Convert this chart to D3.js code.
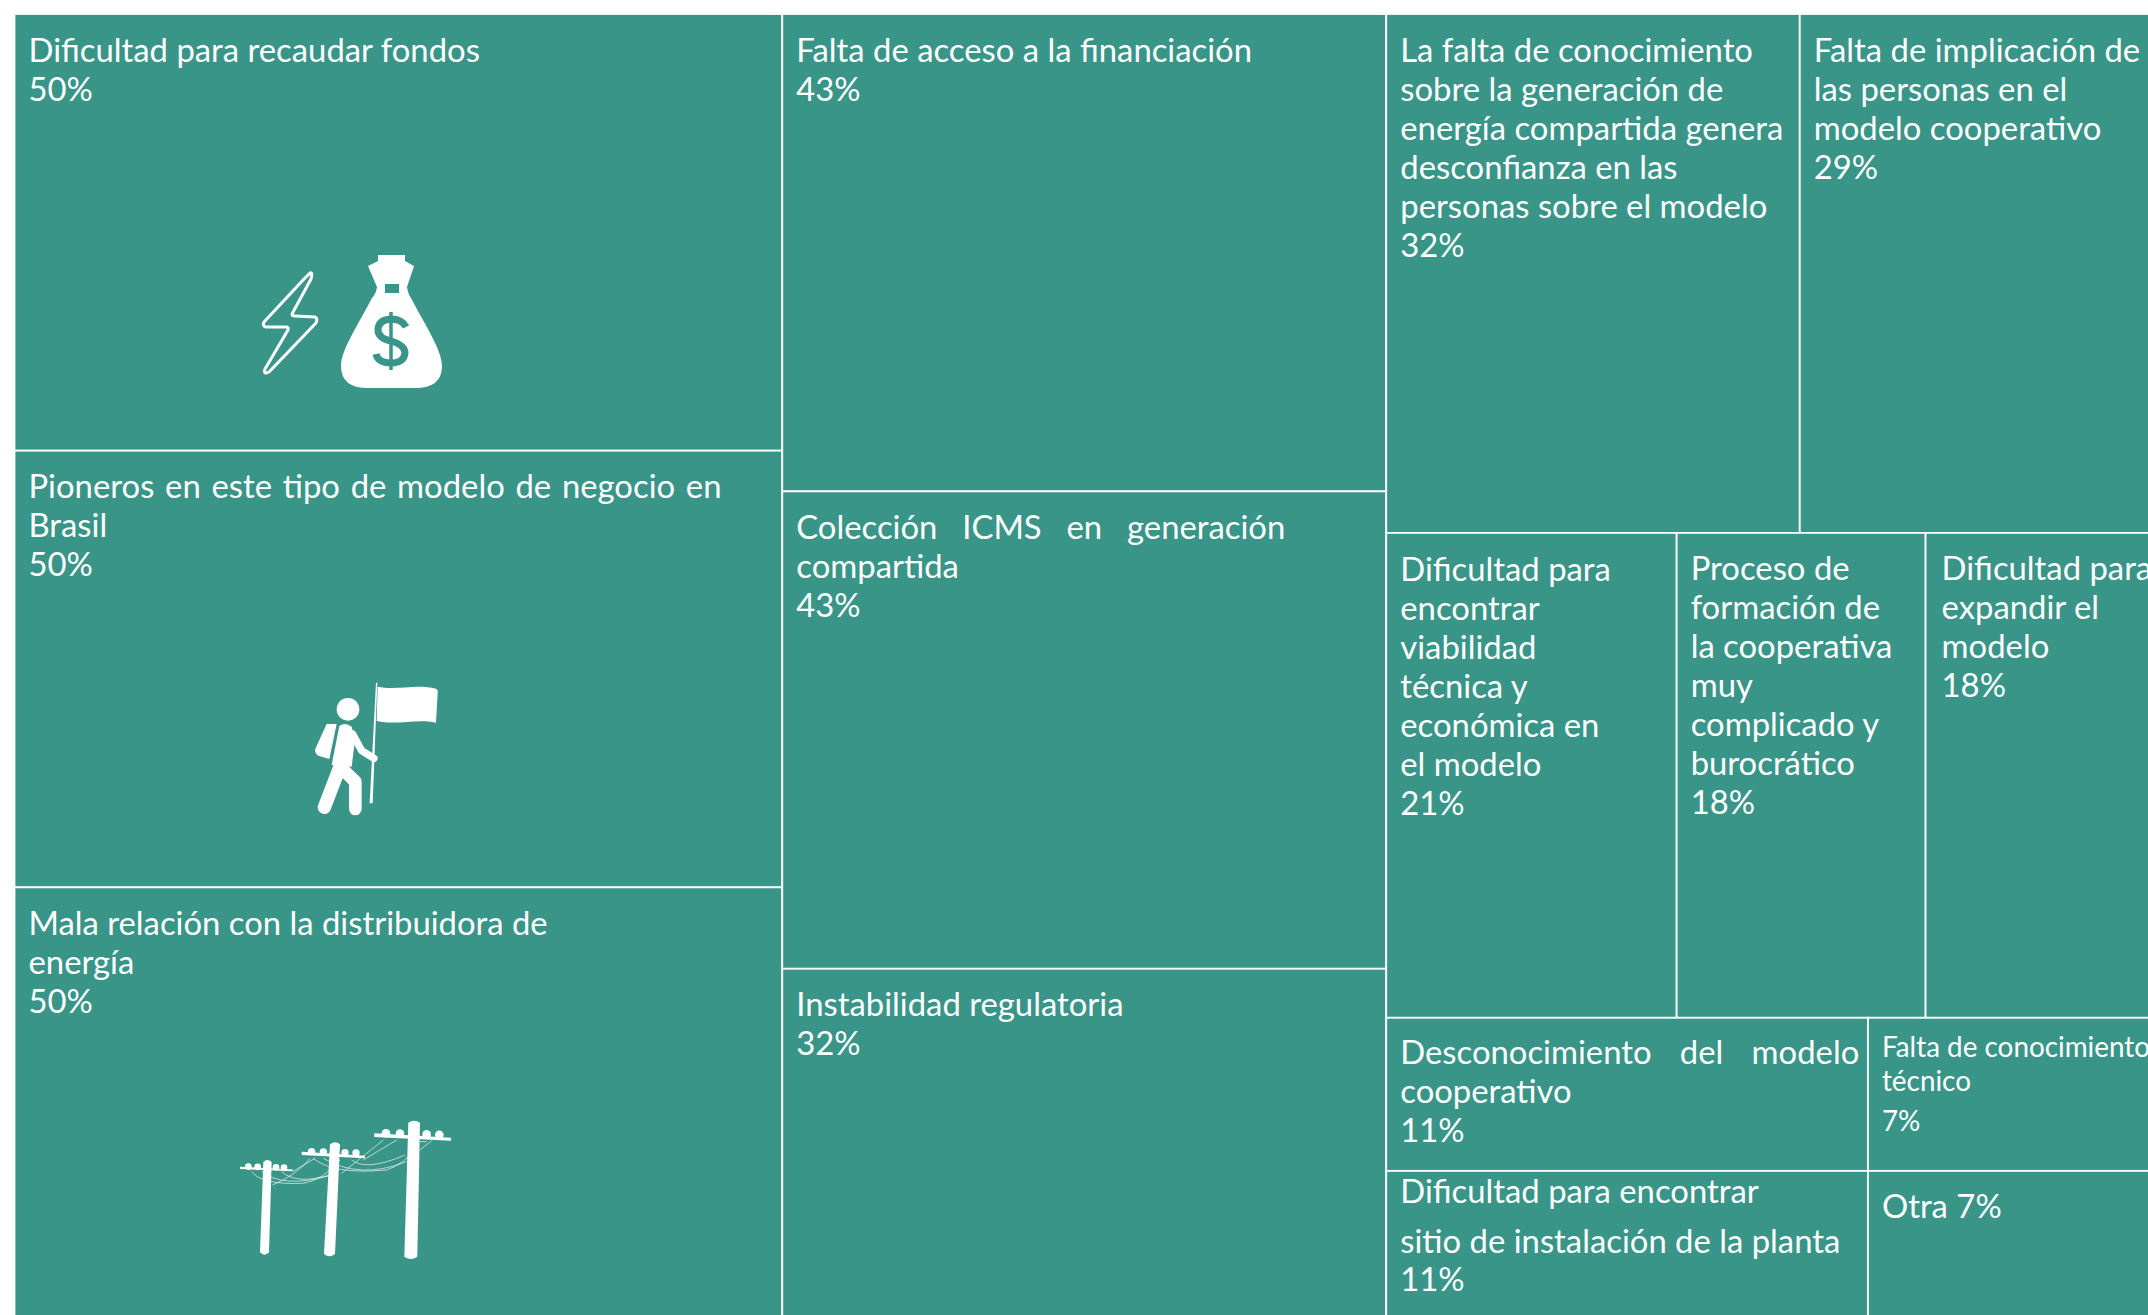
<!DOCTYPE html>
<html><head><meta charset="utf-8">
<script src="https://cdn.jsdelivr.net/npm/d3@7"></script>
<style>html,body{margin:0;padding:0;background:#fff;overflow:hidden}svg{display:block}</style>
</head><body><div id="c"></div>
<script>
// DATA
const col1Labels = ["Dificultad para recaudar fondos","Pioneros en este tipo de modelo de negocio en|Brasil","Mala relación con la distribuidora de|energía"];
const col1Values = [50,50,50];
const col2Labels = ["Falta de acceso a la financiación","Colección ICMS en generación|compartida","Instabilidad regulatoria"];
const col2Values = [43,43,32];
const row1Labels = ["La falta de conocimiento|sobre la generación de|energía compartida genera|desconfianza en las|personas sobre el modelo","Falta de implicación de|las personas en el|modelo cooperativo"];
const row1Values = [32,29];
const row2Labels = ["Dificultad para|encontrar|viabilidad|técnica y|económica en|el modelo","Proceso de|formación de|la cooperativa|muy|complicado y|burocrático","Dificultad para|expandir el|modelo"];
const row2Values = [21,18,18];
const sub1Labels = ["Desconocimiento del modelo|cooperativo","Dificultad para encontrar|sitio de instalación de la planta"];
const sub1Values = [11,11];
const sub2Labels = ["Falta de conocimiento|técnico","Otra"];
const sub2Values = [7,7];

// STYLE / LAYOUT
const W=2148,H=1315, fill="#399588";
const fontFamily="Lato", fontSize=33, fontWeight=400, sx=0.995, lineH=39;
const justify={"Pioneros en este tipo de modelo de negocio en":693,"Colección ICMS en generación":489,"Desconocimiento del modelo":459};
const firstLine={"Dificultad para|encontrar|viabilidad|técnica y|económica en|el modelo":48,"Colección ICMS en generación|compartida":48,"Pioneros en este tipo de modelo de negocio en|Brasil":47,"Instabilidad regulatoria":47,"Desconocimiento del modelo|cooperativo":46,"Dificultad para encontrar|sitio de instalación de la planta":32,"Falta de conocimiento|técnico":39};
const textLeft={"Dificultad para|expandir el|modelo":16};

const leaves=(ls,vs)=>ls.map((name,i)=>({name,value:vs[i]}));
const tree={children:[
 {children:leaves(col1Labels,col1Values)},
 {children:leaves(col2Labels,col2Values)},
 {children:[
   {children:[...leaves(row1Labels,row1Values)]},
   {children:leaves(row2Labels,row2Values)},
   {children:[{children:leaves(sub1Labels,sub1Values)},{children:leaves(sub2Labels,sub2Values)}]}
 ]}
]};
const root=d3.hierarchy(tree).sum(d=>d.value||0);
d3.treemap().size([2160,1310]).round(false).paddingInner(0)
  .tile((n,x0,y0,x1,y1)=> (n.depth%2===0?d3.treemapDice:d3.treemapSlice)(n,x0,y0,x1,y1))(root);

const svg=d3.select("#c").append("svg").attr("width",W).attr("height",H).attr("viewBox",`0 0 ${W} ${H}`);
const g=svg.append("g").attr("transform","translate(14.5,14)");
const cell=g.selectAll("g.cell").data(root.leaves()).join("g").attr("class","cell").attr("transform",d=>`translate(${d.x0},${d.y0})`);
cell.append("rect").attr("width",d=>d.x1-d.x0).attr("height",d=>d.y1-d.y0).attr("fill",fill).attr("stroke","#fff").attr("stroke-width",1.8);

cell.each(function(d){
  const sel=d3.select(this), name=d.data.name, lines=name.split("|");
  const small=name.startsWith("Falta de conocimiento|");
  const fs=small?28:fontSize, lh=small?34:lineH;
  let y=firstLine[name]??47.5;
  const left=textLeft[name]??14;
  const row=(t,yy)=>{
    const el=sel.append("text").attr("transform",`translate(${left},${yy}) scale(${sx},1)`)
      .attr("fill","#fff").attr("font-family",fontFamily).attr("font-size",fs).attr("font-weight",fontWeight).text(t);
    if(justify[t]){
      const n=t.split(" ").length-1, w=el.node().getComputedTextLength();
      el.attr("word-spacing",(justify[t]/sx-w)/n);
    }
  };
  if(name==="Otra"){row("Otra "+d.data.value+"%",y);return;}
  lines.forEach((t,i)=>{ row(t,y); if(i<lines.length-1) y+= name.startsWith("Dificultad para encontrar|")?50:lh; });
  y+= name.startsWith("Dificultad para encontrar|")?38:(small?40:lh);
  row(d.data.value+"%",y);
});

// ICONS (decorative pictograms)
const ic=svg.append("g").attr("class","icons");
// bolt + bag
ic.append("path").attr("d","M310,273 Q313,272 311,279 L292,314 Q292,316 295,316 L315,317 Q318,318 316,323 L269,372 Q263,375 265,369 L288,330 Q289,327 286,327 L266,327 Q262,326 264,322 L304,279 Z")
  .attr("fill","none").attr("stroke","#fff").attr("stroke-width",3).attr("stroke-linejoin","round");
ic.append("path").attr("d","M378,255 L405,255 L405,261 L414,266 L407,287 Q408,294 411,298 C425,325 442,350 442,366 Q442,388 415,388 L368,388 Q341,388 341,366 C341,350 358,325 372,298 Q376,294 377,287 L368,266 L378,261 Z").attr("fill","#fff");
ic.append("rect").attr("x",385).attr("y",284).attr("width",14).attr("height",9).attr("fill",fill);
ic.append("path").attr("d","M406,327 Q402,319 391,319 Q378,320 378,330 Q378,338 391,341 Q405,345 405,353 Q404,363 391,363 Q378,363 376,354").attr("fill","none").attr("stroke",fill).attr("stroke-width",7);
ic.append("line").attr("x1",391).attr("x2",391).attr("y1",312).attr("y2",370).attr("stroke",fill).attr("stroke-width",3.5);
// walker
const m=ic.append("g").attr("transform","translate(230,660) scale(0.3333)");
m.append("circle").attr("cx",354).attr("cy",148).attr("r",34).attr("fill","#fff");
m.append("path").attr("d","M438,68 L442,68 L428,430 L419,430 Z").attr("fill","#fff");
m.append("path").attr("d","M443,80 C500,92 560,70 618,86 Q625,90 623,100 L618,188 C560,175 500,197 440,183 Z").attr("fill","#fff");
m.append("path").attr("d","M290,192 L320,192 L298,297 L265,287 Q250,278 258,262 Z").attr("fill","#fff");
m.append("path").attr("d","M328,198 Q345,185 365,200 L375,240 L365,320 L305,315 Z").attr("fill","#fff");
m.append("path").attr("d","M368,222 L395,272 L432,295").attr("fill","none").attr("stroke","#fff").attr("stroke-width",22).attr("stroke-linecap","round").attr("stroke-linejoin","round");
m.append("path").attr("d","M328,325 L283,442").attr("stroke","#fff").attr("stroke-width",40).attr("stroke-linecap","round");
m.append("path").attr("d","M335,325 L376,365 L376,447").attr("fill","none").attr("stroke","#fff").attr("stroke-width",38).attr("stroke-linecap","round").attr("stroke-linejoin","round");
// poles
const p=ic.append("g").attr("transform","translate(220,1100) scale(0.3333)");
const wires=["M95,215 Q125,255 250,250 Q310,240 360,180","M125,215 Q190,265 325,228","M158,255 Q230,225 270,175","M185,215 Q230,255 330,225","M218,215 L285,175",
 "M280,175 Q340,225 500,210 Q540,195 565,170","M310,175 Q420,240 560,185","M365,220 L490,120","M395,180 Q440,215 555,165","M430,180 L530,120","M600,125 L620,125","M600,150 L635,122"];
p.selectAll("path.w").data(wires).join("path").attr("class","w").attr("d",d=>d).attr("fill","none").attr("stroke","#fff").attr("stroke-width",2.5).attr("opacity",.75);
[[60,218,200,14,178,130,155,120,147,465,[85,113,168,192],10],[245,435,155,20,125,330,360,312,345,470,[275,310,375,408],11],[463,693,100,22,60,565,600,553,592,478,[498,540,620,658],13]].forEach(a=>{
  const [xa,xb,ya,ha,ty,tl,tr,bl,br,by,bs,r]=a;
  p.append("path").attr("d",`M${xa},${ya} L${xb},${ya+ha*.6} L${xb},${ya+ha} L${xa},${ya+ha*.5} Z`).attr("fill","#fff");
  p.append("path").attr("d",`M${tl},${ty+8} Q${(tl+tr)/2},${ty-4} ${tr},${ty+8} L${br},${by-8} Q${(bl+br)/2},${by+6} ${bl},${by-8} Z`).attr("fill","#fff");
  bs.forEach(x=>p.append("circle").attr("cx",x).attr("cy",ya+(x-xa)/(xb-xa)*ha*.3-r*.1).attr("r",r).attr("fill","#fff"));
});
</script></body></html>
